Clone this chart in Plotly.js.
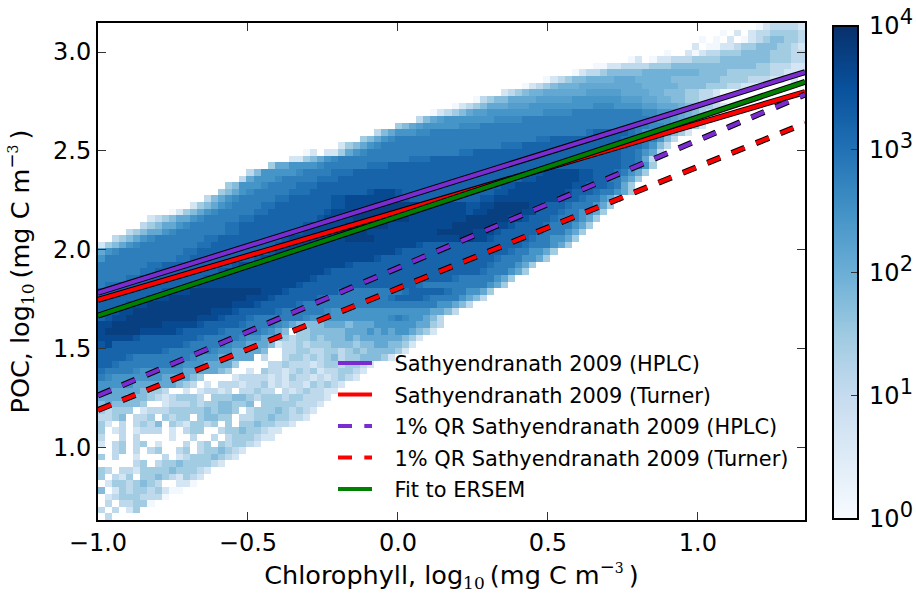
<!DOCTYPE html>
<html><head><meta charset="utf-8">
<script src="https://cdn.plot.ly/plotly-3.0.1.min.js"></script>
<style>html,body{margin:0;padding:0;background:#fff}#c{width:916px;height:593px}</style>
</head><body><div id="c"></div>
<script>
const rowStart=[93,88,85,84,80,75,70,67,63,60,57,53,50,47,45,42,39,37,34,29,27,24,21,20,18,17,15,13,10,7,6,4,2,0,0,0,0,0,0,0,0,0,0,0,0,0,0,0,0,0,0,0,0,0,0,0,0,0,0,0,0,0,0,0,0,0,0,0,0,0,0,0,0,0,0];
const rowLevels=[
"0122221",
"0.1.12233332",
"0.0.1.012344332",
"1.00112334443321",
"0..10122333444433322",
"01.0112223333444444433322",
"001122223 33 4*6 444 444 33 222 11",
"01223 4*5 f*8 4*4 3*6 22 111",
"012344 f*4 5*3 f*5 4*7 3*4 222 11 01",
"01234 f*3 5*9 f*5 4*4 333 22 11 0",
"1234 f*2 5*6 a*5 5*4 f*2 4*3 33 22 1 000",
"02344 5*4 a*5 6*7 a*3 5*2 f*2 4*2 33 22 1 000",
"012345 5*2 a*3 6*9 b*3 6*4 a*2 5*3 f 44 33 2 1 0",
"012345 a*2 6*8 b*4 7*10 b*2 6*2 a 5 f 4 3 2 1 0",
"245 a 6*7 b*4 7*18 b 6*2 a 5 f 431",
"345 a 6*5 b*3 7*24 b*2 6 a 5 f 31",
"245 6*3 b*2 7*22 c 8*5 c 7 66 55 431",
"345 6 b 7*20 c*2 8*10 c*2 7*3 642",
"1345 6 b 7*17 c*3 8*15 c*2 7 642",
"01.11 35 6 b 7*13 c*2 8*21 c*2 7 6 52",
"11345 6 b 7*10 c*3 8*27 c*2 7 52",
"355 6*4 b 7*6 c*3 8*33 c*2 7 6 3",
"24 6*5 b 7*4 c*3 8*25 d*2 9*5 d*2 8*3 c 7 6 5 3",
"25 666 b 7*5 c*3 8*26 d*2 9*6 d*2 8*2 77 653",
"34 666 b 7*4 c*3 8*26 d*2 9*8 d*2 8*3 c 7 53",
"345 6 b 7*5 c*3 8*8 d 9*3 d 8*13 d*2 9*8 d 8*3 c 77 653",
"245 6 b 7*5 c*2 8*6 d*2 9*7 d*2 8*10 d*2 9*9 d 8*2 c 7*2 653",
"1345 6 b 7*4 c*2 8*8 d*2 9*4 e*8 9*5 d*2 9*2 e*5 9*2 8*3 c 7*3 653",
"01345 6 b 7*5 c*2 8*8 d 9*3 e*9 9*7 d 9*2 e*5 9*2 8*3 c 77 66 5 3",
"123455 6 b 7*5 c*2 8*9 d 9*4 e*8 9*8 e*6 9*2 d 8*3 c 7*3 653",
"23455 6 b 7*5 c*2 8*9 d 9*5 e*6 9*9 e*6 9*2 d 8*4 c 7*3 653",
"23455 6 b 7*7 c*2 8*8 d 9*5 e*4 9*10 e*5 9*3 d 8*5 c 7*3 653",
"23456 b 7*7 c*2 8*9 d 9*8 e*4 9*12 e*2 9*2 d 8*5 c 77 66 53",
"13456 b 7*8 c*2 8*9 d 9*19 d 8*14 c 7*3 653",
"56 b 7*9 c*2 8*10 d 9*17 d 8*15 c 77 66 53",
"6 7*10 c*2 8*9 d 9*16 d 8*16 c 777 66 53",
"7*7 c*2 8*10 d 9*15 d 8*19 c 777 653",
"7*6 c*2 8*9 d 9*14 d 8*21 c 777 653",
"7*4 c*2 8*9 d 9*14 d 8*19 c 7*5 653",
"7 c*2 8*10 d 9*14 d 8*16 c 7*9 653",
"8*9 d 9*3 e*10 9*3 d 8*7 c 7*8 c 8*5 c 77 66 53",
"8*7 d 9*2 e*11 9*3 d 8*6 c 7*9 c 8*4 c 7*4 6542",
"8*4 d 9*2 e*12 9*3 d 8*5 c 7*19 66 542",
"88 d 9*2 e*11 9*3 d 8*5 c 7*6 b 6*14 55 42",
"8 d 9*2 e*10 9*3 d 888 c 7*7 b 6*11 b7b 66 542",
"9*2 e*7 9*5 d 8*5 c 7*4 b 6544 445554 5556666 665 532",
"9 e*5 9*5 d 8*5 c 7*5 b 654.3344 44455 5656566 5431",
"9*5 d 8*8 c 7*5 b 66 55 4 32 3343 44454 555555 431",
"d9 8*10 c 7*5 b 66 555 41 2 23233 344434 4554 431",
"8*9 c 7*6 b 66 5555 4 .. 2 23322 332343 444 431",
"8*4 c 7*8 b 666 55555 .2.. 233232 342334 4431",
"88 c 7*8 b 666 5555 3 .... 223222 123323 321",
"c 7*4 b 6*6 5*5 43 .. 1 . 322123 231223 321",
"7b 6*7 5555 43 .... 12 22212 132212 12321",
"6*5 5*6 43 2. 1.2 22122312122132321",
"66 5555 4 33 2 .. 1 .1 2212.22322.21232211",
"5555 444 3 2 1 23332.33344323332332221",
"4 54 444 3 .. 12 22323344334.333332221",
"3 233 3.1 22 2 3 3333 4344 3.23 33432 321",
"2 2 34 .2 23 . 3 23 3. 34433 .223 34332 21",
"3 1 . 2. 2 3 2 4 . 3 21 3323 . 3. 334 33221",
"3.12. 1 2 22 . 1 . 2 33 .. 2 3 34 33211",
"2.. 2 . 2. ... 1 .. 2 .. 2 . 2 3 3 3211",
"1.23.23.1...2.23.323321",
"..23.2.23..23.233 4321",
"3.2..1...2.123334321",
".....23.2334333321",
"32.2213333433321",
"3.213.334321321",
".1332343 2..110",
"4.132332 3100",
".123332220",
".2.22330",
"2.2.13",
".2"
];
const levelLog={"0":0.1,"1":0.7,"2":1.1,"3":1.45,"4":1.75,"f":1.95,"5":2.1,"a":2.28,"6":2.45,"b":2.62,"7":2.8,"c":3.0,"8":3.2,"d":3.4,"9":3.6,"e":3.78};
const seriesNames=["Sathyendranath 2009 (HPLC)","Sathyendranath 2009 (Turner)","1% QR Sathyendranath 2009 (HPLC)","1% QR Sathyendranath 2009 (Turner)","Fit to ERSEM"];
const seriesColors=["#7b2cd0","#ff0000","#7b2cd0","#ff0000","#008000"];
const seriesDash=["solid","solid","14px,12.3px","14px,12.3px","solid"];
const lineX=[-1,1.357];
const hplcY=[1.783,2.899];
const turnerY=[1.747,2.798];
const qrHplcY=[1.263,2.785];
const qrTurnerY=[1.19,2.64];
const ersemY=[1.667,2.849];
const xTicks=[-1,-0.5,0,0.5,1];
const yTicks=[1,1.5,2,2.5,3];
const cbTicks=[0,1,2,3,4];
const cbExponents=["0","1","2","3","4"];
const blues=["#f7fbff","#deebf7","#c6dbef","#9ecae1","#6baed6","#4292c6","#2171b5","#08519c","#08306b"];

const nCols=100;
function expand(s){return s.split(" ").map(t=>t.includes("*")?t[0].repeat(+t.slice(2)):t).join("");}
const z=rowLevels.slice().reverse().map((s,i)=>{
  const st=rowStart[rowLevels.length-1-i], row=new Array(nCols).fill(null), e=expand(s);
  for(let k=0;k<e.length&&st+k<nCols;k++){if(e[k]!==".") row[st+k]=levelLog[e[k]];}
  return row;
});
const F="DejaVu Sans";
const heat={type:"heatmap",z:z,x0:-1+0.02357/2,dx:0.02357,y0:0.634+0.0335/2,dy:0.0335,zmin:0,zmax:4,
  colorscale:blues.map((c,i)=>[i/8,c]),hoverongaps:false,
  colorbar:{x:(833-98)/707,xanchor:"left",xpad:0,y:1-3/497,yanchor:"top",ypad:0,
    thickness:25,thicknessmode:"pixels",len:493,lenmode:"pixels",outlinewidth:2,outlinecolor:"#000",
    tickmode:"array",tickvals:cbTicks,ticktext:cbExponents.map(n=>'\u2009'+'10<sup><span style="font-size:21px">'+n+'</span></sup>'),ticks:"inside",ticklen:8,tickwidth:1,tickcolor:"#333",
    tickfont:{family:F,size:24,color:"#000"}}};
const ys=[hplcY,turnerY,qrHplcY,qrTurnerY,ersemY];
const traces=[heat];
ys.forEach((y,i)=>{
  traces.push({type:"scatter",mode:"lines",x:lineX,y:y,showlegend:false,hoverinfo:"skip",
    line:{color:"#000",width:6,dash:seriesDash[i]}});
  traces.push({type:"scatter",mode:"lines",x:lineX,y:y,name:"\u00A0\u00A0\u2009"+seriesNames[i],legendgroup:"g"+i,
    line:{color:seriesColors[i],width:4,dash:seriesDash[i]}});
});
const mathT=(s)=>s+', log<sub><span style="font-family:DejaVu Serif;font-size:17px">10</span></sub>\u2009(mg C m<sup><span style="font-size:18px">\u2212</span><span style="font-family:DejaVu Serif;font-size:14px">3</span></sup>\u2009)';
const layout={width:916,height:593,margin:{l:98,r:111,t:23,b:73,pad:0,autoexpand:false},paper_bgcolor:"#fff",plot_bgcolor:"#fff",
  font:{family:F,color:"#000"},
  xaxis:{range:[-1,1.357],tickmode:"array",tickvals:xTicks,ticktext:["\u22121.0","\u22120.5","0.0","0.5","1.0"],ticks:"inside",ticklen:8,tickwidth:1,tickcolor:"#333",
    mirror:"allticks",showline:true,linecolor:"#000",linewidth:2,showgrid:false,zeroline:false,tickfont:{size:24,family:F},
    title:{text:mathT("Chlorophyll"),font:{size:25.5,family:F},standoff:11}},
  yaxis:{range:[0.634,3.147],tickmode:"array",tickvals:yTicks,ticktext:["1.0","1.5","2.0","2.5","3.0"],ticks:"inside",ticklen:8,tickwidth:1,tickcolor:"#333",
    mirror:"allticks",showline:true,linecolor:"#000",linewidth:2,showgrid:false,zeroline:false,tickfont:{size:24,family:F},
    title:{text:mathT("POC"),font:{size:25.5,family:F},standoff:16}},
  legend:{x:(333-98)/707,xanchor:"left",y:1-(343-23)/497,yanchor:"top",bgcolor:"rgba(0,0,0,0)",borderwidth:0,itemwidth:34,
    font:{family:F,size:20.9,color:"#000"},tracegroupgap:1.3,traceorder:"grouped",itemclick:false,itemdoubleclick:false},
};
Plotly.newPlot("c",traces,layout,{displayModeBar:false,staticPlot:true});
</script></body></html>
